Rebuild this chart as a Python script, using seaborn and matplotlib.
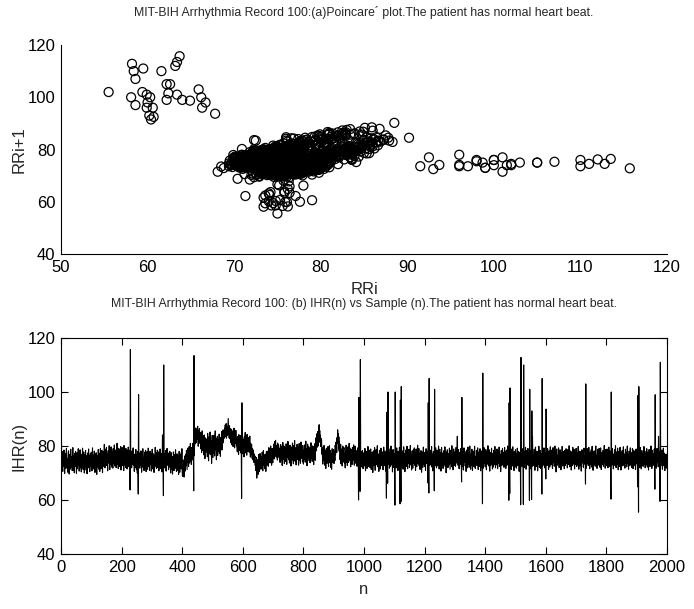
import numpy as np
import matplotlib
matplotlib.use("Agg")
import matplotlib.pyplot as plt
import seaborn as sns
from matplotlib import font_manager

# IHR(n), one row = 20 samples (n = 0 .. 1999)
ihr = [
    60.4, 91.5, 73.6, 74.1, 77.9, 71.2, 70.6, 75.8, 76.3, 72.4, 78.5, 74.9, 69.8, 73.3, 73.9, 77.2, 71.7, 76.6, 79.1, 72.0,
    75.4, 75.0, 70.3, 73.8, 77.6, 78.2, 72.9, 69.6, 74.5, 76.9, 71.4, 73.0, 78.8, 75.6, 72.2, 72.7, 76.1, 70.9, 74.3, 79.4,
    73.5, 71.0, 76.4, 75.9, 70.1, 77.3, 74.0, 72.5, 78.0, 73.1, 75.2, 69.9, 76.8, 77.5, 71.6, 74.7, 73.4, 79.0, 72.8, 75.3,
    70.7, 76.0, 74.4, 78.6, 71.9, 73.7, 77.0, 70.4, 75.5, 74.8, 72.3, 79.2, 76.2, 71.3, 73.2, 77.8, 75.1, 70.0, 74.6, 76.7,
    72.6, 78.3, 73.6, 71.1, 76.5, 75.7, 69.7, 74.2, 77.4, 72.1, 73.0, 78.9, 74.9, 71.8, 76.3, 70.5, 75.9, 77.1, 73.3, 72.4,
    77.7, 74.1, 70.8, 75.2, 79.3, 73.5, 72.0, 76.6, 71.5, 74.0, 78.1, 75.4, 70.2, 73.9, 76.9, 72.7, 77.5, 74.6, 69.5, 75.8,
    73.1, 76.4, 72.2, 78.7, 75.0, 71.4, 74.5, 77.3, 70.6, 73.6, 79.0, 76.1, 72.9, 71.7, 75.6, 78.4, 74.3, 70.1, 76.8, 73.8,
    77.9, 72.5, 75.3, 80.6, 74.2, 71.9, 76.7, 78.8, 73.4, 75.9, 79.5, 72.8, 77.1, 74.6, 70.8, 76.2, 78.3, 73.7, 75.0, 80.1,
    74.4, 71.3, 77.6, 76.0, 73.1, 79.7, 75.5, 72.2, 78.0, 74.8, 76.5, 71.8, 79.0, 77.2, 73.5, 75.7, 80.4, 72.6, 76.9, 74.0,
    78.5, 75.1, 72.0, 77.4, 74.7, 81.0, 73.2, 76.3, 79.2, 71.6, 75.8, 77.7, 73.9, 78.9, 72.4, 76.6, 74.5, 79.8, 71.1, 77.0,
    73.6, 76.8, 79.4, 74.9, 72.7, 78.2, 75.6, 70.9, 80.2, 76.4, 73.0, 77.8, 75.2, 72.1, 79.1, 74.3, 76.1, 78.6, 71.5, 75.4,
    77.3, 72.3, 79.6, 75.7, 73.8, 76.9, 78.4, 74.2, 63.7, 115.7, 72.8, 76.5, 78.1, 71.9, 74.8, 77.5, 73.3, 75.9, 79.3, 72.9,
    75.1, 74.6, 70.6, 77.0, 76.3, 72.0, 73.5, 78.7, 74.1, 71.2, 76.7, 75.3, 69.9, 77.9, 71.3, 62.2, 99.0, 73.0, 76.2, 74.8,
    71.8, 77.5, 73.3, 72.9, 78.2, 75.6, 70.3, 74.5, 76.8, 73.7, 79.0, 72.1, 75.0, 75.5, 70.9, 76.1, 77.7, 73.0, 74.2, 78.4,
    72.6, 70.5, 76.4, 74.0, 77.9, 71.4, 75.3, 73.6, 79.2, 74.7, 72.3, 76.9, 71.0, 75.8, 78.1, 73.2, 74.4, 77.3, 70.7, 76.0,
    74.9, 78.8, 72.7, 71.5, 75.7, 77.1, 73.8, 70.2, 76.6, 75.1, 72.4, 79.5, 74.3, 73.1, 77.6, 71.7, 76.3, 74.6, 78.5, 72.0,
    75.4, 73.5, 77.8, 70.8, 74.2, 76.5, 72.2, 78.9, 75.9, 71.6, 73.9, 77.2, 74.7, 70.4, 76.0, 84.1, 75.2, 73.4, 61.6, 110.0,
    73.6, 77.0, 71.9, 75.5, 74.1, 78.3, 72.5, 70.7, 76.2, 74.8, 79.1, 73.0, 75.6, 72.9, 77.4, 71.2, 74.5, 76.7, 73.3, 78.0,
    72.1, 75.0, 70.0, 74.6, 77.5, 73.7, 71.3, 76.1, 69.6, 74.0, 72.8, 77.8, 75.3, 70.9, 73.4, 76.8, 71.7, 74.9, 78.6, 72.4,
    74.3, 70.6, 73.1, 77.1, 75.7, 71.0, 72.6, 76.4, 69.4, 74.7, 78.0, 72.0, 70.3, 75.2, 76.9, 73.6, 71.5, 77.6, 74.1, 79.0,
    70.4, 68.8, 72.9, 69.9, 74.8, 71.8, 68.5, 73.5, 76.3, 72.2, 70.7, 75.1, 77.0, 72.7, 78.4, 74.4, 71.3, 76.0, 79.2, 73.9,
    76.6, 72.4, 78.0, 79.8, 73.7, 77.5, 75.0, 80.9, 74.3, 76.8, 73.2, 79.4, 77.1, 74.8, 78.6, 81.0, 75.6, 76.4, 63.4, 113.5,
    76.4, 82.0, 85.3, 84.6, 80.8, 86.7, 83.2, 81.4, 86.1, 84.0, 82.5, 87.3, 83.7, 79.9, 85.8, 84.3, 81.0, 86.4, 82.8, 85.0,
    83.5, 79.0, 84.8, 81.7, 77.6, 82.9, 85.6, 80.2, 78.4, 83.8, 81.1, 76.7, 82.3, 84.1, 79.6, 75.3, 81.8, 83.0, 78.1, 80.5,
    77.8, 82.6, 79.3, 76.0, 84.7, 80.9, 78.2, 74.5, 81.5, 83.4, 77.1, 79.8, 85.2, 80.3, 76.8, 82.1, 78.9, 73.6, 80.6, 83.9,
    79.5, 75.7, 82.4, 81.2, 77.4, 84.0, 79.1, 76.3, 80.7, 85.6, 78.6, 82.9, 77.9, 74.9, 81.3, 80.1, 83.6, 76.5, 79.7, 82.2,
    78.0, 81.6, 84.4, 77.3, 80.4, 82.7, 76.2, 83.1, 79.4, 81.9, 85.3, 78.5, 80.8, 84.2, 82.5, 86.0, 81.2, 84.8, 85.7, 82.9,
    86.6, 83.4, 87.8, 84.5, 85.1, 88.3, 82.9, 86.0, 87.2, 83.8, 85.9, 88.5, 90.2, 84.5, 86.9, 83.0, 87.5, 85.4, 82.6, 86.4,
    84.7, 81.2, 83.9, 86.2, 80.4, 82.5, 85.5, 83.1, 79.8, 84.3, 82.0, 86.6, 81.6, 79.3, 84.9, 83.4, 80.9, 85.8, 82.7, 80.1,
    82.8, 79.2, 77.8, 83.5, 80.6, 81.3, 76.9, 84.2, 79.7, 78.4, 82.3, 80.0, 83.9, 77.5, 81.6, 79.0, 60.6, 96.0, 78.0, 81.1,
    77.2, 80.8, 82.5, 78.3, 76.0, 83.4, 79.6, 81.9, 85.0, 78.7, 77.4, 82.0, 80.3, 76.6, 84.3, 79.9, 81.4, 78.0, 83.1, 80.5,
    82.2, 77.7, 79.4, 83.7, 78.6, 75.9, 81.0, 79.8, 76.8, 80.6, 78.2, 75.4, 79.0, 77.3, 74.8, 78.5, 76.1, 73.9, 77.0, 75.6,
    76.3, 72.8, 74.4, 70.9, 73.1, 75.7, 68.1, 71.5, 74.9, 72.3, 69.4, 73.6, 76.8, 71.0, 74.2, 70.5, 73.9, 77.2, 72.6, 75.1,
    71.4, 76.0, 74.6, 72.1, 77.7, 73.2, 70.8, 75.5, 78.3, 74.0, 72.7, 76.6, 71.6, 73.8, 77.0, 75.2, 70.6, 74.8, 77.9, 72.9,
    75.9, 73.4, 78.1, 76.5, 72.5, 77.3, 79.4, 74.1, 75.0, 78.8, 73.7, 76.2, 80.0, 74.7, 77.6, 72.9, 76.9, 79.1, 75.3, 73.8,
    78.9, 76.1, 80.7, 77.5, 75.2, 81.6, 78.2, 76.8, 82.1, 79.3, 75.9, 80.2, 77.0, 79.8, 74.8, 81.1, 78.6, 76.4, 80.4, 77.7,
    75.6, 79.2, 78.1, 73.9, 77.4, 80.5, 76.2, 74.6, 79.7, 77.8, 72.8, 76.5, 81.3, 78.4, 75.1, 77.1, 80.0, 73.5, 76.9, 79.5,
    78.0, 74.3, 76.0, 80.8, 77.6, 73.2, 79.0, 75.8, 78.7, 81.7, 76.4, 74.9, 77.9, 79.9, 73.7, 76.7, 80.3, 75.4, 78.3, 72.6,
    76.6, 79.6, 74.7, 77.2, 81.1, 78.5, 75.3, 73.4, 80.1, 76.8, 78.1, 82.0, 74.4, 77.5, 79.3, 75.7, 73.0, 78.8, 76.1, 80.6,
    77.3, 75.0, 79.8, 76.3, 72.9, 78.6, 80.9, 74.8, 77.7, 79.1, 73.6, 76.2, 81.5, 78.2, 75.5, 77.0, 79.6, 74.1, 80.2, 76.7,
    73.3, 78.4, 77.8, 75.2, 80.4, 76.9, 74.0, 79.4, 81.8, 77.4, 75.7, 78.9, 72.7, 76.4, 80.7, 78.0, 74.6, 77.1, 79.7, 75.9,
    78.5, 76.0, 73.8, 79.3, 77.6, 81.2, 75.4, 78.1, 76.6, 74.3, 80.0, 77.3, 79.9, 75.1, 73.1, 78.7, 76.3, 80.8, 77.9, 74.7,
    79.1, 83.0, 80.4, 78.2, 84.5, 81.7, 79.6, 85.3, 82.6, 80.0, 84.9, 86.8, 87.9, 83.4, 85.7, 81.3, 84.0, 79.8, 82.9, 80.7,
    82.1, 77.0, 78.9, 75.5, 73.3, 79.6, 76.3, 74.8, 80.2, 77.7, 72.9, 75.9, 78.5, 74.2, 71.7, 76.8, 79.2, 75.0, 73.6, 77.4,
    76.1, 79.8, 74.5, 72.4, 77.9, 75.7, 80.1, 73.8, 76.6, 78.3, 72.1, 75.3, 77.1, 71.4, 76.0, 79.0, 74.0, 77.5, 75.2, 78.7,
    75.8, 73.5, 78.2, 77.0, 74.6, 80.3, 76.7, 81.4, 78.8, 80.9, 77.6, 83.1, 81.0, 86.0, 82.2, 84.6, 79.3, 83.4, 78.1, 81.7,
    79.0, 74.9, 77.7, 80.6, 73.4, 76.3, 78.9, 75.1, 72.6, 77.4, 80.0, 76.0, 74.3, 78.6, 79.4, 73.7, 76.9, 75.4, 71.9, 77.8,
    76.4, 80.3, 74.0, 75.7, 78.4, 72.8, 77.2, 79.7, 76.6, 73.9, 78.0, 81.0, 75.5, 74.5, 77.6, 79.2, 72.3, 76.1, 78.7, 75.0,
    77.3, 73.2, 79.5, 76.8, 74.7, 78.1, 80.4, 75.9, 72.9, 77.5, 76.2, 79.9, 74.1, 73.6, 78.3, 75.6, 77.9, 72.5, 76.7, 79.3,
    75.6, 77.6, 60.0, 98.0, 75.5, 78.6, 74.0, 63.2, 112.0, 76.2, 73.7, 77.9, 75.0, 72.2, 76.5, 78.3, 74.3, 71.6, 77.0, 75.8,
    77.5, 72.6, 75.3, 79.1, 74.5, 70.8, 76.2, 78.0, 73.1, 75.9, 71.7, 77.2, 74.0, 79.8, 76.6, 72.4, 74.8, 78.5, 73.3, 76.0,
    72.0, 75.6, 78.9, 74.2, 71.3, 76.8, 73.7, 77.7, 75.1, 70.2, 74.6, 78.2, 76.4, 72.9, 75.2, 79.4, 73.4, 71.0, 76.9, 74.4,
    78.6, 75.8, 73.0, 76.5, 80.1, 74.7, 72.3, 77.0, 75.4, 70.6, 73.9, 78.4, 76.1, 74.1, 71.5, 77.3, 79.2, 75.0, 72.8, 76.3,
    73.5, 77.8, 74.9, 71.2, 76.0, 79.6, 75.7, 72.7, 74.3, 78.1, 76.7, 73.2, 70.7, 75.3, 60.7, 92.5, 77.0, 78.0, 66.2, 100.0,
    76.0, 73.3, 79.0, 75.5, 71.8, 74.8, 77.6, 72.5, 76.4, 80.0, 74.2, 73.0, 77.4, 75.1, 70.4, 76.9, 78.7, 74.6, 72.1, 75.9,
    77.1, 73.4, 58.1, 100.0, 74.0, 77.5, 71.9, 75.6, 79.3, 73.6, 76.1, 74.4, 70.9, 78.0, 75.8, 72.6, 76.7, 79.5, 74.8, 58.6,
    97.0, 73.6, 59.4, 102.0, 74.5, 78.3, 72.2, 75.0, 76.9, 71.4, 74.7, 79.7, 73.8, 77.2, 75.4, 70.5, 76.3, 73.1, 78.5, 74.9,
    72.4, 76.6, 79.9, 74.3, 71.6, 77.7, 75.7, 73.5, 78.8, 76.2, 72.0, 74.1, 77.0, 80.2, 75.2, 73.0, 76.8, 71.1, 75.5, 78.2,
    74.6, 71.8, 76.4, 78.6, 73.7, 75.3, 79.3, 72.9, 74.0, 77.4, 70.9, 76.1, 78.9, 74.5, 72.3, 75.9, 77.9, 80.3, 73.4, 76.5,
    75.1, 79.1, 72.7, 74.9, 77.3, 71.3, 76.0, 73.9, 78.3, 75.4, 70.3, 74.2, 77.8, 76.7, 72.1, 75.6, 79.6, 73.3, 76.9, 74.7,
    72.5, 77.6, 74.4, 71.0, 76.2, 79.0, 73.6, 75.8, 78.1, 74.1, 75.2, 66.3, 96.0, 74.1, 62.6, 105.0, 75.0, 72.8, 77.3, 74.3,
    78.4, 73.1, 76.3, 79.8, 72.2, 75.5, 77.0, 70.8, 74.6, 78.0, 73.4, 75.8, 63.4, 101.0, 77.0, 72.7, 76.0, 79.3, 74.8, 71.9,
    75.7, 78.5, 73.7, 72.6, 77.1, 74.0, 80.0, 75.3, 71.5, 76.6, 78.8, 73.0, 74.9, 77.6, 70.7, 75.1, 79.4, 72.9, 76.4, 74.2,
    77.4, 71.7, 75.6, 78.2, 74.7, 73.3, 76.8, 79.7, 72.4, 75.0, 77.9, 70.1, 74.4, 76.2, 73.6, 78.6, 75.9, 72.0, 77.2, 74.5,
    73.0, 76.9, 79.2, 74.8, 71.4, 75.4, 78.4, 73.5, 76.5, 72.3, 80.1, 74.0, 77.0, 75.7, 71.2, 76.3, 78.9, 73.8, 75.2, 72.8,
    77.8, 74.2, 72.5, 76.7, 79.5, 73.7, 75.5, 78.2, 83.6, 76.0, 72.9, 74.6, 78.7, 75.3, 71.6, 77.5, 74.9, 73.1, 76.6, 79.0,
    73.2, 75.0, 66.7, 98.0, 76.0, 72.3, 77.9, 74.5, 71.1, 76.2, 79.3, 73.9, 75.6, 78.0, 72.6, 74.7, 77.2, 70.6, 75.8, 78.5,
    74.0, 71.9, 76.8, 79.6, 73.4, 75.2, 77.6, 72.1, 74.8, 80.0, 75.9, 73.3, 71.4, 77.0, 76.1, 72.7, 78.8, 74.3, 70.9, 76.4,
    78.1, 73.8, 75.4, 72.4, 77.3, 79.9, 74.6, 71.7, 76.0, 75.1, 73.0, 78.4, 76.6, 72.8, 74.1, 79.3, 75.7, 71.3, 77.7, 74.4,
    76.9, 72.5, 75.3, 79.0, 73.6, 70.8, 77.4, 75.9, 72.0, 78.2, 74.3, 58.6, 107.0, 75.3, 71.8, 76.7, 79.4, 73.7, 75.0, 77.8,
    72.3, 75.8, 78.7, 74.1, 71.2, 76.4, 77.9, 73.3, 75.0, 80.1, 74.7, 72.6, 76.1, 78.6, 73.9, 70.7, 75.6, 77.5, 74.2, 72.9,
    76.8, 79.2, 73.5, 75.4, 71.5, 77.2, 74.9, 72.2, 78.4, 76.3, 73.1, 75.7, 79.8, 74.4, 71.9, 76.6, 77.7, 73.0, 75.1, 78.9,
    74.5, 71.6, 76.0, 78.1, 73.7, 75.3, 79.6, 72.4, 74.2, 77.0, 75.8, 70.5, 73.6, 78.3, 76.5, 72.8, 74.8, 79.1, 75.5, 73.2,
    77.6, 74.0, 72.1, 76.9, 79.4, 73.5, 75.2, 77.8, 71.7, 74.6, 78.5, 76.2, 72.9, 75.6, 80.0, 73.8, 77.1, 75.9, 59.9, 96.0,
    73.6, 62.4, 101.5, 74.0, 77.4, 75.2, 71.3, 76.5, 78.9, 73.4, 74.7, 79.7, 72.5, 76.1, 75.4, 70.9, 77.9, 74.3, 72.2, 76.8,
    78.6, 73.9, 75.5, 71.8, 77.3, 74.5, 79.2, 72.7, 76.0, 78.0, 73.1, 75.8, 70.6, 74.9, 77.7, 73.5, 76.2, 58.2, 112.8, 74.5,
    77.2, 72.3, 79.0, 74.2, 73.3, 75.6, 58.4, 110.0, 76.0, 72.0, 77.8, 75.3, 73.7, 79.5, 74.6, 71.4, 76.7, 78.3, 73.0, 75.1,
    76.4, 79.1, 72.9, 74.7, 77.5, 76.1, 59.9, 101.0, 71.5, 75.9, 78.4, 73.2, 74.0, 60.2, 93.0, 72.5, 83.4, 77.0, 74.3, 76.6,
    72.7, 75.4, 78.8, 73.6, 71.0, 76.3, 79.6, 74.1, 77.2, 72.4, 75.0, 78.1, 76.5, 70.8, 74.8, 77.6, 73.3, 79.9, 75.7, 72.1,
    76.9, 73.9, 78.3, 74.4, 71.6, 75.3, 77.1, 62.2, 105.0, 75.0, 72.6, 78.7, 74.6, 76.0, 79.3, 73.1, 75.6, 71.9, 77.4, 76.3,
    67.8, 93.7, 74.1, 77.7, 72.8, 75.5, 79.0, 73.4, 76.4, 71.3, 74.9, 78.2, 75.8, 72.2, 77.0, 79.7, 74.0, 73.0, 76.7, 75.2,
    78.5, 74.3, 71.7, 76.1, 79.4, 73.8, 75.1, 77.8, 72.5, 74.6, 80.0, 76.2, 73.1, 75.7, 70.4, 77.3, 78.9, 74.8, 72.9, 76.5,
    73.5, 77.1, 79.3, 75.0, 72.0, 76.6, 74.4, 78.6, 73.0, 75.9, 71.2, 77.5, 76.0, 73.7, 79.8, 74.7, 72.6, 76.3, 78.0, 74.1,
    76.8, 71.6, 75.3, 78.4, 74.0, 72.8, 77.7, 79.0, 73.6, 75.6, 76.9, 71.9, 74.5, 78.7, 75.2, 73.2, 77.2, 80.1, 74.9, 72.3,
    75.8, 78.2, 73.9, 76.5, 71.1, 74.6, 77.9, 75.4, 72.7, 79.5, 76.1, 73.3, 75.0, 78.8, 74.2, 71.5, 76.7, 77.4, 73.1, 75.6,
    79.1, 74.7, 72.4, 77.6, 75.9, 73.0, 76.3, 79.8, 74.1, 71.4, 75.5, 78.1, 76.8, 72.6, 74.3, 77.9, 75.1, 70.7, 76.0, 78.6,
    73.7, 75.7, 78.4, 74.5, 72.1, 77.0, 79.2, 73.3, 75.9, 74.0, 76.4, 65.9, 103.0, 75.0, 71.8, 77.4, 74.6, 79.0, 73.5, 76.2,
    72.8, 76.9, 79.5, 74.4, 75.3, 71.6, 77.7, 73.2, 76.0, 78.5, 74.7, 72.2, 75.8, 79.9, 73.6, 76.4, 71.0, 75.1, 77.8, 74.3,
    78.2, 73.4, 75.6, 72.5, 77.3, 80.0, 74.9, 73.0, 76.6, 71.7, 75.2, 78.8, 76.1, 72.9, 74.5, 77.5, 79.1, 73.8, 75.9, 72.1,
    76.7, 79.3, 74.2, 71.3, 75.7, 77.6, 73.1, 76.2, 78.4, 74.8, 72.4, 75.0, 77.2, 80.2, 73.9, 75.5, 71.8, 76.8, 78.7, 74.0,
    72.7, 76.3, 78.9, 73.5, 75.4, 71.9, 77.1, 74.6, 79.6, 73.0, 76.0, 78.2, 72.3, 75.9, 74.8, 60.3, 100.0, 76.0, 72.9, 77.4,
    79.0, 74.4, 75.8, 71.5, 77.0, 73.7, 76.6, 78.6, 72.8, 75.1, 80.1, 74.1, 72.0, 76.5, 77.8, 73.3, 75.4, 79.2, 74.9, 71.2,
    75.6, 77.9, 73.8, 72.4, 76.9, 79.5, 74.3, 75.0, 71.1, 77.4, 76.1, 73.2, 78.3, 74.7, 72.6, 76.4, 79.7, 75.3, 73.0, 77.0,
    74.1, 71.8, 76.2, 78.8, 73.5, 75.9, 77.7, 72.3, 74.6, 80.0, 75.1, 73.6, 76.8, 71.4, 74.9, 78.1, 76.3, 72.7, 75.5, 79.3,
    73.1, 76.7, 74.5, 72.0, 77.5, 75.7, 79.1, 73.9, 71.6, 76.0, 78.5, 74.2, 75.3, 72.9, 77.9, 74.8, 71.3, 76.6, 78.9, 73.4,
    75.0, 78.0, 76.2, 64.9, 98.7, 75.0, 55.5, 102.0, 74.0, 77.6, 72.1, 75.4, 79.4, 73.8, 76.1, 71.5, 74.7, 78.3, 75.9, 72.6,
    77.2, 74.0, 72.5, 76.9, 79.8, 73.3, 75.6, 78.1, 71.9, 74.4, 77.0, 75.2, 73.0, 79.0, 76.4, 72.2, 75.0, 77.7, 74.6, 71.1,
    76.3, 78.7, 73.6, 75.3, 72.4, 77.3, 74.9, 80.0, 73.1, 76.0, 71.7, 75.7, 78.4, 74.3, 72.8, 77.1, 75.5, 73.7, 78.9, 75.8,
    64.0, 99.0, 73.0, 77.0, 75.1, 71.8, 76.5, 79.1, 73.9, 74.8, 77.8, 72.3, 83.6, 76.2, 73.4, 78.0, 74.5, 59.5, 111.0, 74.5,
    77.3, 72.9, 75.4, 78.5, 73.7, 71.4, 76.1, 74.3, 79.2, 72.7, 75.8, 77.4, 73.1, 70.9, 76.6, 74.0, 72.2, 77.0, 73.6, 71.7,
]

rr_ticks = [50, 60, 70, 80, 90, 100, 110, 120]
n_ticks = [0, 200, 400, 600, 800, 1000, 1200, 1400, 1600, 1800, 2000]
y_ticks = [40, 60, 80, 100, 120]

title_a = "MIT-BIH Arrhythmia Record 100:(a)Poincare\u00b4 plot.The patient has normal heart beat."
title_b = "MIT-BIH Arrhythmia Record 100: (b) IHR(n) vs Sample (n).The patient has normal heart beat."

sns.set_style("white")
names = {f.name for f in font_manager.fontManager.ttflist}
fams = [f for f in ["Liberation Sans Narrow", "Liberation Sans", "DejaVu Sans"] if f in names]
plt.rcParams["font.family"] = fams
plt.rcParams["axes.edgecolor"] = "black"
plt.rcParams["axes.linewidth"] = 0.8

ihr = np.array(ihr)
n = np.arange(len(ihr))
# Poincare pairs: RR(i) against RR(i+1)
rri = ihr[:-1]
rri1 = ihr[1:]

fig = plt.figure(figsize=(6.94, 6.09), dpi=100)
ax1 = fig.add_axes([0.0879, 0.5829, 0.8732, 0.3432])
ax2 = fig.add_axes([0.0879, 0.0903, 0.8732, 0.3547])

# (a) Poincare plot
sns.scatterplot(x=rri, y=rri1, ax=ax1, marker="o", s=42, facecolor="none",
                edgecolor="black", linewidth=0.9)
ax1.set_xlim(50, 120)
ax1.set_ylim(40, 120)
ax1.set_xticks(rr_ticks)
ax1.set_yticks(y_ticks)
sns.despine(ax=ax1)
ax1.tick_params(direction="in", length=5, width=0.8, labelsize=12, colors="black", pad=4)
ax1.set_xlabel("RRi", fontsize=12, labelpad=5)
ax1.set_ylabel("RRi+1", fontsize=12, labelpad=1)
ax1.set_title(title_a, fontsize=8.8, pad=21)

# (b) IHR(n) vs sample
sns.lineplot(x=n, y=ihr, ax=ax2, color="black", linewidth=0.8, estimator=None)
ax2.set_xlim(0, 2000)
ax2.set_ylim(40, 120)
ax2.set_xticks(n_ticks)
ax2.set_yticks(y_ticks)
for s in ax2.spines.values():
    s.set_visible(True)
ax2.tick_params(direction="in", length=5, width=0.8, labelsize=12, colors="black",
                top=True, right=True, bottom=True, left=True, pad=4)
ax2.set_xlabel("n", fontsize=12, labelpad=5)
ax2.set_ylabel("IHR(n)", fontsize=12, labelpad=1)
ax2.set_title(title_b, fontsize=8.8, pad=22)

fig.savefig("out.png", dpi=100)
